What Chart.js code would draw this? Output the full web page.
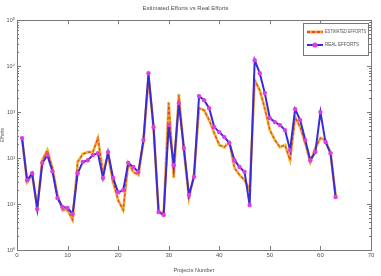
<!DOCTYPE html>
<html>
<head>
<meta charset="utf-8">
<script src="https://cdn.jsdelivr.net/npm/chart.js@4.4.1/dist/chart.umd.min.js"></script>
<style>
  html, body { margin: 0; padding: 0; background: #fff; }
  #wrap { width: 381px; height: 276px; }
</style>
</head>
<body>
<div id="wrap"><canvas id="grafico"></canvas></div>
<script>
// project numbers (x axis)
const projectNumbers = [1, 2, 3, 4, 5, 6, 7, 8, 9, 10, 11, 12, 13, 14, 15, 16, 17, 18, 19, 20,
    21, 22, 23, 24, 25, 26, 27, 28, 29, 30, 31, 32, 33, 34, 35, 36, 37, 38, 39, 40,
    41, 42, 43, 44, 45, 46, 47, 48, 49, 50, 51, 52, 53, 54, 55, 56, 57, 58, 59, 60,
    61, 62, 63];

// efforts
const estimatedEfforts = [272, 30, 43, 8.6, 90, 149, 61, 15.7, 7.4, 7.4, 4.5, 82, 122, 135, 135, 272, 47, 116, 30, 12.2,
    7.4, 78, 50, 43, 223, 5480, 472, 6.7, 6.4, 1570, 39, 2340, 149, 13.5, 43, 1220, 1100, 670, 349, 192,
    173, 223, 61, 43, 33, 20, 4960, 3010, 1220, 406, 246, 173, 192, 90, 778, 472, 212, 82, 165, 272,
    246, 128, 15.7];

const realEfforts = [272, 33, 47, 7.8, 78, 116, 52, 13.5, 8.6, 8.2, 6.1, 47, 82, 90, 116, 128, 37, 135, 37, 18,
    20, 78, 64, 50, 246, 7040, 472, 6.7, 5.8, 522, 70, 1570, 165, 15.7, 39, 2230, 1820, 1220, 472, 367,
    286, 212, 90, 64, 50, 9.5, 13500, 7040, 2590, 741, 606, 522, 406, 149, 1160, 670, 246, 90, 135, 1000,
    223, 128, 14.2];

const xTicks = [0, 10, 20, 30, 40, 50, 60, 70];
const yDecades = [1, 10, 100, 1000, 10000, 100000];
const yTickLabels = ['10\u2070', '10\u00b9', '10\u00b2', '10\u00b3', '10\u2074', '10\u2075'];

const seriesNames = ['ESTIMATED EFFORTS', 'REAL EFFORTS'];

const toPoints = vals => vals.map((v, i) => ({ x: projectNumbers[i], y: v }));

const FONT = '"Liberation Sans", Arial, sans-serif';
const TXT = '#505050';

// frame, inward ticks and legend, MATLAB style
const matlabAxes = {
    id: 'matlabAxes',
    beforeDatasetsDraw(chart) {
        const { ctx, chartArea: a, scales } = chart;
        ctx.save();
        ctx.strokeStyle = '#7a7a7a';
        ctx.lineWidth = 1;
        ctx.strokeRect(Math.round(a.left) + 0.5, Math.round(a.top) + 0.5,
            Math.round(a.right - a.left), Math.round(a.bottom - a.top));
        ctx.beginPath();
        xTicks.forEach(t => {
            const px = Math.round(scales.x.getPixelForValue(t)) + 0.5;
            ctx.moveTo(px, a.bottom); ctx.lineTo(px, a.bottom - 4);
            ctx.moveTo(px, a.top); ctx.lineTo(px, a.top + 4);
        });
        yDecades.forEach(d => {
            for (let m = 1; m <= 9; m++) {
                const v = d * m;
                if (v > 100000) break;
                const py = Math.round(scales.y.getPixelForValue(v)) + 0.5;
                const len = m === 1 ? 4 : 2;
                ctx.moveTo(a.left, py); ctx.lineTo(a.left + len, py);
                ctx.moveTo(a.right, py); ctx.lineTo(a.right - len, py);
            }
        });
        ctx.stroke();
        ctx.restore();
    },
    afterDatasetsDraw(chart) {
        const { ctx } = chart;
        const bx = 303, by = 23, bw = 65, bh = 32;
        ctx.save();
        ctx.fillStyle = '#fff';
        ctx.fillRect(bx, by, bw, bh);
        ctx.strokeStyle = '#777';
        ctx.lineWidth = 1;
        ctx.strokeRect(bx + 0.5, by + 0.5, bw, bh);

        // estimated
        let y = by + 9;
        ctx.lineWidth = 3;
        ctx.strokeStyle = '#f2a33a';
        ctx.beginPath(); ctx.moveTo(bx + 4, y); ctx.lineTo(bx + 20, y); ctx.stroke();
        ctx.lineWidth = 1.4;
        ctx.strokeStyle = '#e0321c';
        ctx.setLineDash([3, 2]);
        ctx.beginPath(); ctx.moveTo(bx + 4, y); ctx.lineTo(bx + 20, y); ctx.stroke();
        ctx.setLineDash([]);

        // real
        y = by + 22;
        ctx.lineWidth = 2;
        ctx.strokeStyle = '#3a2ad8';
        ctx.beginPath(); ctx.moveTo(bx + 4, y); ctx.lineTo(bx + 20, y); ctx.stroke();
        ctx.fillStyle = '#e13ae6';
        ctx.beginPath(); ctx.arc(bx + 12, y, 2.6, 0, Math.PI * 2); ctx.fill();

        ctx.fillStyle = TXT;
        ctx.font = '4.5px ' + FONT;
        ctx.textBaseline = 'middle';
        ctx.fillText(seriesNames[0], bx + 22, by + 9, 41);
        ctx.fillText(seriesNames[1], bx + 22, by + 22, 41);
        ctx.restore();
    }
};

const ctx = document.getElementById('grafico').getContext('2d');
new Chart(ctx, {
    type: 'line',
    data: {
        datasets: [
            {
                label: seriesNames[1],
                data: toPoints(realEfforts),
                borderColor: '#3a2ad8',
                borderWidth: 2,
                pointRadius: 2.2,
                pointBackgroundColor: '#e13ae6',
                pointBorderColor: '#e13ae6',
                pointBorderWidth: 0,
                tension: 0,
                order: 0
            },
            {
                label: seriesNames[0] + ' dash',
                data: toPoints(estimatedEfforts),
                borderColor: '#e0421c',
                borderWidth: 1.1,
                borderDash: [3, 2],
                pointRadius: 0,
                tension: 0,
                order: 1
            },
            {
                label: seriesNames[0],
                data: toPoints(estimatedEfforts),
                borderColor: '#f0aa3a',
                borderWidth: 2.6,
                pointRadius: 1.6,
                pointBackgroundColor: '#e8c63a',
                pointBorderWidth: 0,
                tension: 0,
                order: 2
            }
        ]
    },
    options: {
        responsive: true,
        maintainAspectRatio: false,
        animation: false,
        layout: { padding: { top: 0, right: 10, left: 0, bottom: 0 } },
        plugins: {
            legend: { display: false },
            tooltip: { enabled: false },
            title: {
                display: true,
                text: 'Estimated Efforts vs Real Efforts',
                color: TXT,
                font: { family: FONT, size: 6, weight: 'normal' },
                padding: { top: 5, bottom: 8 }
            }
        },
        scales: {
            x: {
                type: 'linear',
                min: 0,
                max: 70,
                afterFit: s => { s.height = 26; },
                afterBuildTicks: s => { s.ticks = xTicks.map(v => ({ value: v })); },
                ticks: { color: TXT, font: { family: FONT, size: 6 }, padding: 2, maxRotation: 0 },
                grid: { display: false, drawTicks: false },
                border: { display: false },
                title: {
                    display: true,
                    text: 'Projects Number',
                    color: TXT,
                    font: { family: FONT, size: 5.5 },
                    padding: { top: 0, bottom: 2 }
                }
            },
            y: {
                type: 'logarithmic',
                min: 1,
                max: 100000,
                afterFit: s => { s.width = 17; },
                afterBuildTicks: s => { s.ticks = yDecades.map(v => ({ value: v })); },
                ticks: {
                    color: TXT,
                    font: { family: FONT, size: 5.5 },
                    padding: 2,
                    callback: v => yTickLabels[yDecades.indexOf(v)]
                },
                grid: { display: false, drawTicks: false },
                border: { display: false },
                title: {
                    display: true,
                    text: 'Efforts',
                    color: TXT,
                    font: { family: FONT, size: 5 },
                    padding: 0
                }
            }
        }
    },
    plugins: [matlabAxes]
});
</script>
</body>
</html>
